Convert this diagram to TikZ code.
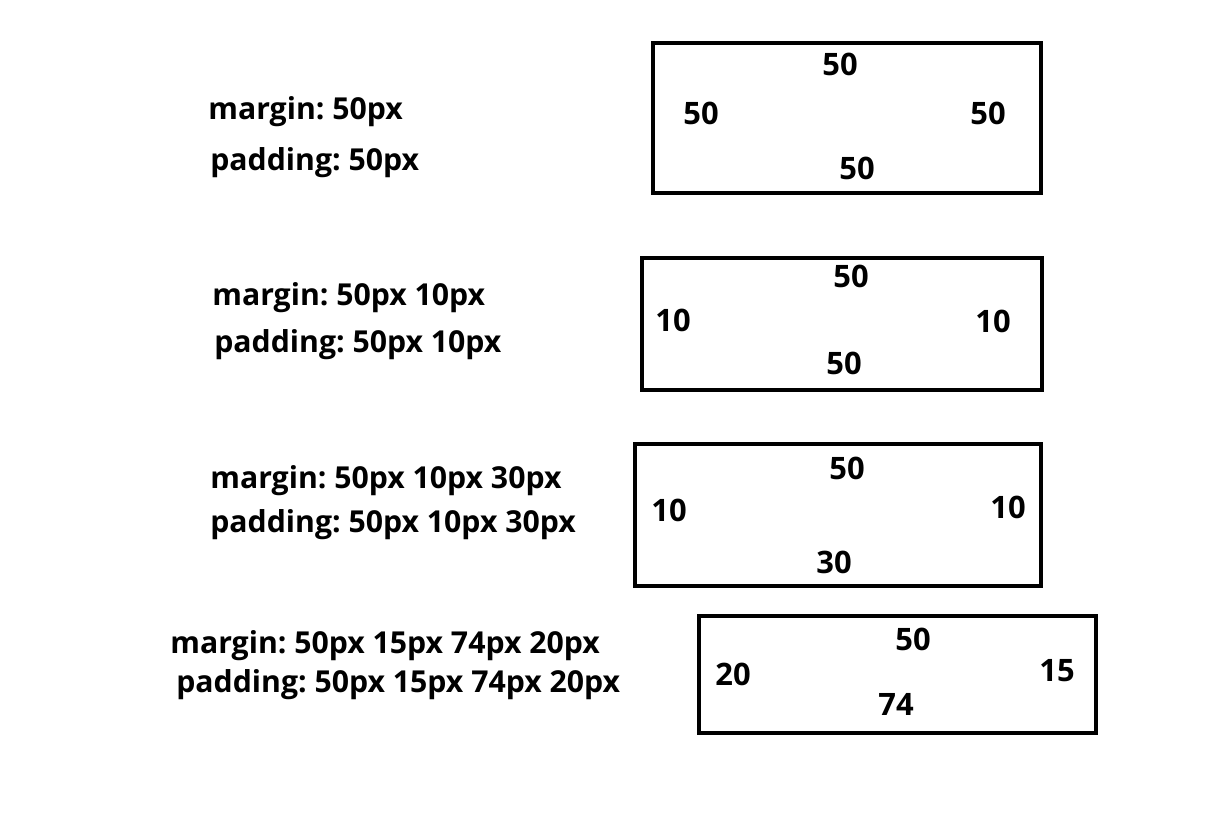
\documentclass[tikz,border=0pt]{standalone}
\usepackage{fontspec}
\setmainfont{Open Sans}
\usepackage{tikz}
\usetikzlibrary{positioning}
\frenchspacing

\begin{document}
\begin{tikzpicture}[x=0.02cm, y=-0.02cm,
  box/.style={draw, line width=2.3pt},
  rule/.style={font=\fontsize{17.2}{20}\selectfont\bfseries, anchor=west, inner sep=0pt},
  num/.style={font=\fontsize{17.6}{20}\selectfont\bfseries, inner sep=0pt},
]
\useasboundingbox (0,0) rectangle (1232,820);

% Fall 1
\node[rule] (m1) at (208,112) {margin: 50px};
\node[rule] (p1) at (210,163) {padding: 50px};
\draw[box] (653,43) rectangle (1041,193);
\node[num] (t1) at (840,64) {50};
\node[num] (l1) at (701,113) {50};
\node[num] (r1) at (988,113) {50};
\node[num] (u1) at (857,168) {50};

% Fall 2
\node[rule] (m2) at (212,298) {margin: 50px 10px};
\node[rule] (p2) at (214,345) {padding: 50px 10px};
\draw[box] (642,258) rectangle (1042,390);
\node[num] (t2) at (851,276) {50};
\node[num] (l2) at (673,320) {10};
\node[num] (r2) at (993,321) {10};
\node[num] (u2) at (844,363) {50};

% Fall 3
\node[rule] (m3) at (210,481) {margin: 50px 10px 30px};
\node[rule] (p3) at (210,525) {padding: 50px 10px 30px};
\draw[box] (635,444) rectangle (1041,586);
\node[num] (t3) at (847,468) {50};
\node[num] (l3) at (669,510) {10};
\node[num] (r3) at (1008,507) {10};
\node[num] (u3) at (834,562) {30};

% Fall 4
\node[rule] (m4) at (170,646) {margin: 50px 15px 74px 20px};
\node[rule] (p4) at (176,685) {padding: 50px 15px 74px 20px};
\draw[box] (699,616) rectangle (1096,733);
\node[num] (t4) at (913,639) {50};
\node[num] (l4) at (733,674) {20};
\node[num] (r4) at (1057,671) {15};
\node[num] (u4) at (896,704) {74};
\end{tikzpicture}
\end{document}
